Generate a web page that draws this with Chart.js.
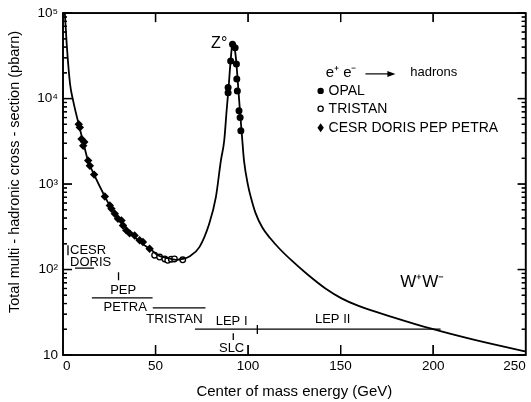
<!DOCTYPE html>
<html>
<head>
<meta charset="utf-8">
<script src="https://cdn.jsdelivr.net/npm/chart.js@4.4.0/dist/chart.umd.min.js"></script>
<style>
html, body { margin: 0; padding: 0; background: #fff; }
</style>
</head>
<body>
<canvas id="xsec" width="531" height="402"></canvas>
<script>
// fitted e+e- -> hadrons curve (GeV, pb)
var curveE = [1.0, 2.0, 3.8, 5.5, 8.2, 10.9, 13.6, 16.8, 22.6, 26.2, 31.6, 36.9, 42.3, 47.7, 51.2, 56.6, 61, 64.7, 68.3, 73.7, 79, 82.6, 85.3, 87.1, 88.4, 89.4, 90.7, 91.6, 92.4, 93.4, 94.8, 95.6, 96.9, 97.8, 100, 101.5, 104, 107.7, 112, 117, 123.8, 132, 141.8, 150.5, 159.7, 177.6, 199, 222.4, 246.6, 250];
var curveSigma = [100000, 43500, 14900, 9400, 5300, 3100, 1850, 1290, 715, 514, 365, 262, 205, 170, 147, 136, 130, 133, 142, 183, 343, 702, 1880, 3210, 7200, 12900, 30100, 45000, 42000, 30100, 12400, 7200, 3210, 1880, 960, 700, 460, 310, 232, 175, 126, 88, 60, 46, 37.5, 28, 20.3, 15, 11.4, 11];

// measurements
var opalE = [89.2, 89.2, 90.6, 91.6, 93.0, 93.7, 93.9, 94.2, 95.1, 95.7, 96.1];
var opalSigma = [13500, 11700, 27600, 43100, 39400, 25300, 16900, 12300, 7200, 6000, 4200];
var tristanE = [49.5, 52.2, 55.0, 56.6, 58.5, 60.2, 64.7];
var tristanSigma = [147, 140, 133, 128, 132, 133, 130];
var lowE = [8.5, 9.1, 10.0, 10.9, 11.5, 13.6, 14.5, 16.8, 22.6, 25.3, 26.2, 28.0, 29.7, 31.6, 32.4, 34.2, 36.0, 38.7, 41.4, 43.2, 46.8];
var lowSigma = [5000, 4600, 3370, 2800, 3100, 1880, 1640, 1290, 715, 560, 514, 450, 393, 375, 328, 287, 265, 250, 220, 210, 175];

// accelerator energy ranges: [E from, E to, sigma from, sigma to]
var ranges = [
  [6.5, 16.8, 104, 104],     // DORIS
  [15.6, 48.4, 46.6, 46.6],  // PEP / PETRA
  [48.5, 77, 35.6, 35.6],    // TRISTAN
  [71.3, 204, 20.1, 20.1],   // LEP I + LEP II
  [2.7, 2.7, 147, 192],      // CESR
  [30, 30, 75, 93],          // PEP
  [92, 92, 15, 18],          // SLC
  [105, 105, 17.6, 22.4]     // LEP I / LEP II
];

var xTickVals = [0, 50, 100, 150, 200, 250];
var yTickVals = [10, 100, 1000, 10000, 100000];
var yTickLabels = ['10', '10²', '10³', '10⁴', '10⁵'];
var legendLabels = ['OPAL', 'TRISTAN', 'CESR DORIS PEP PETRA'];

var FONT = '"Liberation Sans", Arial, sans-serif';

function pts(xs, ys) {
  return xs.map(function (x, i) { return { x: x, y: ys[i] }; });
}

var yMinor = [];
yTickVals.slice(0, 4).forEach(function (d) {
  for (var k = 2; k <= 9; k++) yMinor.push(d * k);
});

// labels in data coordinates
var notes = [
  { t: 'Z°', x: 84.4, y: 43500, size: 16, align: 'center' },
  { t: 'e⁺ e⁻', x: 141.9, y: 19960, size: 15, align: 'left' },
  { t: 'hadrons', x: 187.6, y: 20400, size: 13, align: 'left' },
  { t: 'W⁺W⁻', x: 194.1, y: 71, size: 17, align: 'center' },
  { t: 'CESR', x: 3.8, y: 168, size: 13, align: 'left' },
  { t: 'DORIS', x: 3.8, y: 121.5, size: 13, align: 'left' },
  { t: 'PEP', x: 32.5, y: 57.3, size: 13, align: 'center' },
  { t: 'PETRA', x: 33.6, y: 35.8, size: 13, align: 'center' },
  { t: 'TRISTAN', x: 60.2, y: 25.9, size: 13.5, align: 'center' },
  { t: 'LEP I', x: 91.1, y: 24.6, size: 13, align: 'center' },
  { t: 'SLC', x: 91.1, y: 12.1, size: 13, align: 'center' },
  { t: 'LEP II', x: 145.7, y: 26.3, size: 13, align: 'center' }
];

function seg(ctx, x0, y0, x1, y1, w) {
  ctx.lineWidth = w;
  ctx.beginPath();
  ctx.moveTo(x0, y0);
  ctx.lineTo(x1, y1);
  ctx.stroke();
}

// box round the plot with inward ticks on all four sides
function drawFrame(chart) {
  var ctx = chart.ctx;
  var sx = chart.scales.x, sy = chart.scales.y;
  var L = sx.getPixelForValue(0), R = sx.getPixelForValue(250);
  var T = sy.getPixelForValue(100000), B = sy.getPixelForValue(10);
  ctx.save();
  ctx.strokeStyle = '#000';
  ctx.lineWidth = 1.6;
  ctx.strokeRect(L, T, R - L, B - T);
  xTickVals.forEach(function (v) {
    if (v <= 0 || v >= 250) return;
    var px = sx.getPixelForValue(v);
    seg(ctx, px, B, px, B - 10, 1.3);
    seg(ctx, px, T, px, T + 9, 1.3);
  });
  yTickVals.forEach(function (v) {
    var py = sy.getPixelForValue(v);
    seg(ctx, L, py, L + 9, py, 1.3);
    seg(ctx, R, py, R - 8, py, 1.3);
  });
  yMinor.forEach(function (v) {
    var py = sy.getPixelForValue(v);
    seg(ctx, L, py, L + 4, py, 1.2);
    seg(ctx, R, py, R - 4, py, 1.2);
  });
  ctx.restore();
}

var decor = {
  id: 'decor',
  afterDatasetsDraw: function (chart) {
    drawFrame(chart);
  },
  afterDraw: function (chart) {
    var ctx = chart.ctx;
    var sx = chart.scales.x, sy = chart.scales.y;
    ctx.save();
    ctx.fillStyle = '#000';
    ctx.strokeStyle = '#000';

    // annotations
    ctx.textBaseline = 'middle';
    notes.forEach(function (n) {
      ctx.font = n.size + 'px ' + FONT;
      ctx.textAlign = n.align;
      ctx.fillText(n.t, sx.getPixelForValue(n.x), sy.getPixelForValue(n.y));
    });

    // arrow of e+e- -> hadrons
    var ax0 = sx.getPixelForValue(163.4), ax1 = sx.getPixelForValue(179.6);
    var ay = sy.getPixelForValue(19450);
    seg(ctx, ax0, ay, ax1 - 6, ay, 1.2);
    ctx.beginPath();
    ctx.moveTo(ax1, ay); ctx.lineTo(ax1 - 8, ay - 3); ctx.lineTo(ax1 - 8, ay + 3);
    ctx.closePath();
    ctx.fill();

    // legend
    var lx = sx.getPixelForValue(139.2), tx = sx.getPixelForValue(143.5);
    var ly = [12300, 7590, 4560].map(function (v) { return sy.getPixelForValue(v); });
    ctx.beginPath(); ctx.arc(lx, ly[0], 3.2, 0, Math.PI * 2); ctx.fill();
    ctx.beginPath(); ctx.arc(lx, ly[1], 2.6, 0, Math.PI * 2);
    ctx.fillStyle = '#fff'; ctx.fill(); ctx.lineWidth = 1.3; ctx.stroke();
    ctx.fillStyle = '#000';
    ctx.beginPath();
    ctx.moveTo(lx, ly[2] - 4.5); ctx.lineTo(lx + 3.2, ly[2]); ctx.lineTo(lx, ly[2] + 4.5); ctx.lineTo(lx - 3.2, ly[2]);
    ctx.closePath(); ctx.fill();
    ctx.font = '14px ' + FONT;
    ctx.textAlign = 'left';
    legendLabels.forEach(function (t, i) { ctx.fillText(t, tx, ly[i]); });

    // y axis title
    ctx.translate(15, 172);
    ctx.rotate(-Math.PI / 2);
    ctx.textAlign = 'center';
    ctx.font = '14.5px ' + FONT;
    ctx.fillText('Total multi - hadronic cross - section (pbarn)', 0, 0);
    ctx.restore();

    drawFrame(chart);
  }
};

var datasets = [
  {
    label: 'fit', data: pts(curveE, curveSigma), showLine: true, pointRadius: 0,
    borderColor: '#000', borderWidth: 1.8, cubicInterpolationMode: 'monotone'
  },
  {
    label: 'OPAL', data: pts(opalE, opalSigma), pointStyle: 'circle', pointRadius: 3.5,
    backgroundColor: '#000', borderColor: '#000', borderWidth: 0
  },
  {
    label: 'TRISTAN', data: pts(tristanE, tristanSigma), pointStyle: 'circle', pointRadius: 2.8,
    backgroundColor: '#fff', borderColor: '#000', borderWidth: 1.3
  },
  {
    label: 'CESR DORIS PEP PETRA', data: pts(lowE, lowSigma), pointStyle: 'rectRot', pointRadius: 4.2,
    backgroundColor: '#000', borderColor: '#000', borderWidth: 0
  }
];
ranges.forEach(function (r) {
  datasets.push({
    label: '', data: [{ x: r[0], y: r[2] }, { x: r[1], y: r[3] }], showLine: true,
    pointRadius: 0, borderColor: '#000', borderWidth: 1.3
  });
});

new Chart(document.getElementById('xsec').getContext('2d'), {
  type: 'scatter',
  data: { datasets: datasets },
  options: {
    responsive: false,
    animation: false,
    layout: { padding: { top: 11, right: 3, left: 0, bottom: 0 } },
    plugins: { legend: { display: false }, tooltip: { enabled: false } },
    scales: {
      x: {
        type: 'linear', min: 0, max: 250,
        afterBuildTicks: function (s) { s.ticks = xTickVals.map(function (v) { return { value: v }; }); },
        afterFit: function (s) { s.height = 47; },
        grid: { display: false, drawTicks: false },
        border: { display: false },
        ticks: { color: '#000', font: { family: FONT, size: 13.5 }, padding: 3, align: 'inner', maxRotation: 0 },
        title: {
          display: true, text: 'Center of mass energy (GeV)', color: '#000',
          font: { family: FONT, size: 15 }, padding: { top: 0, bottom: 1 }
        }
      },
      y: {
        type: 'logarithmic', min: 10, max: 100000,
        afterBuildTicks: function (s) { s.ticks = yTickVals.map(function (v) { return { value: v }; }); },
        afterFit: function (s) { s.width = 63; },
        grid: { display: false, drawTicks: false },
        border: { display: false },
        ticks: {
          color: '#000', font: { family: FONT, size: 13.5 }, padding: 5,
          callback: function (v) { var i = yTickVals.indexOf(v); return i < 0 ? '' : yTickLabels[i]; }
        }
      }
    }
  },
  plugins: [decor]
});
</script>
</body>
</html>
